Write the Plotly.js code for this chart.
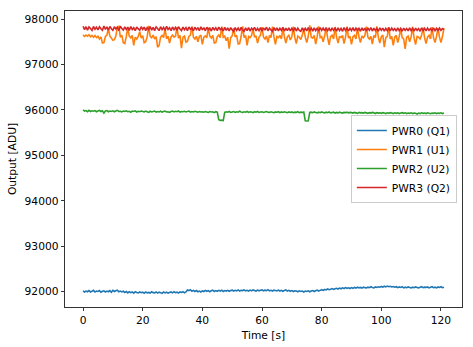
<!DOCTYPE html>
<html>
<head>
<meta charset="utf-8">
<script src="https://cdn.plot.ly/plotly-3.0.1.min.js"></script>
<style>html,body{margin:0;padding:0;background:#fff}#chart{width:473px;height:347px}</style>
</head>
<body>
<div id="chart"></div>
<script>
// Sampling step of the time grid (seconds)
const timeStep = 0.5;

const seriesNames = ["PWR0 (Q1)", "PWR1 (U1)", "PWR2 (U2)", "PWR3 (Q2)"];

const pwr0 = [
92020,91995,92015,92000,92025,91995,92010,92030,91995,92015,
92005,92025,91990,92010,92020,91995,92015,92000,92025,91990,
92030,92005,92020,92035,92000,92015,91995,92010,91985,92005,
91975,92000,91980,91995,91970,92000,91985,91975,91995,91980,
91990,91965,91995,91975,91985,91970,92000,91980,91975,91995,
91970,91990,91980,91965,91995,91975,91990,91970,91985,91995,
91975,92000,91980,91990,91970,91995,91985,92000,91975,91995,
92040,92025,92045,92010,92030,92005,92025,92000,92015,91995,
92020,92005,92030,92010,92025,92000,92020,92035,92005,92025,
92010,92030,92015,92035,92005,92025,92015,92030,92010,92025,
92035,92015,92030,92020,92040,92015,92030,92025,92040,92020,
92030,92015,92035,92020,92040,92025,92015,92035,92020,92030,
92040,92020,92035,92025,92045,92020,92030,92015,92035,92025,
92020,92035,92015,92030,92010,92025,92040,92015,92030,92010,
92025,92005,92020,92015,92000,92020,92005,92015,91995,92015,
92005,92020,92000,92015,92025,92005,92020,92035,92015,92030,
92045,92030,92050,92040,92060,92045,92055,92070,92050,92065,
92075,92060,92080,92065,92085,92070,92090,92075,92085,92070,
92090,92075,92095,92080,92100,92085,92095,92080,92100,92090,
92085,92100,92090,92110,92095,92085,92105,92095,92110,92100,
92115,92100,92120,92105,92125,92110,92120,92105,92115,92100,
92110,92090,92105,92095,92110,92085,92100,92090,92105,92095,
92085,92100,92090,92105,92095,92085,92100,92110,92090,92100,
92095,92105,92085,92100,92110,92090,92100,92085,92105,92095,
92110,92090,92100];

const pwr1 = [
97650,97615,97645,97620,97655,97610,97640,97600,97635,97590,
97620,97560,97605,97470,97480,97615,97645,97790,97620,97580,
97530,97545,97625,97820,97840,97600,97645,97480,97460,97615,
97800,97625,97585,97640,97420,97600,97560,97615,97720,97580,
97635,97480,97500,97605,97850,97620,97590,97645,97560,97610,
97380,97420,97600,97640,97590,97790,97560,97625,97470,97605,
97645,97600,97625,97820,97580,97640,97360,97600,97625,97490,
97510,97615,97645,97830,97600,97560,97620,97500,97615,97645,
97440,97600,97630,97590,97810,97620,97580,97640,97470,97480,
97610,97645,97590,97830,97600,97625,97520,97600,97350,97590,
97630,97800,97605,97640,97450,97460,97620,97840,97590,97635,
97420,97615,97590,97640,97780,97600,97630,97470,97600,97645,
97820,97600,97560,97625,97480,97640,97590,97830,97605,97440,
97615,97590,97640,97560,97800,97610,97470,97605,97640,97540,
97610,97830,97590,97460,97625,97600,97550,97640,97790,97600,
97480,97620,97860,97600,97580,97640,97450,97610,97840,97590,
97615,97500,97630,97800,97590,97430,97610,97645,97560,97820,
97600,97470,97620,97590,97640,97460,97600,97830,97580,97620,
97440,97610,97640,97560,97800,97610,97480,97625,97590,97640,
97830,97600,97560,97615,97450,97640,97590,97840,97600,97470,
97610,97645,97380,97590,97620,97820,97560,97615,97420,97600,
97640,97480,97610,97790,97590,97560,97340,97600,97625,97500,
97610,97830,97580,97440,97615,97600,97560,97640,97810,97590,
97460,97600,97640,97560,97820,97590,97480,97615,97800,97600,
97480,97620,97800];

const pwr2 = [
96000,95975,95985,95960,95990,95965,95980,95970,95985,95960,
95975,95990,95965,95980,95930,95975,95985,95960,95975,95965,
95980,95960,95975,95990,95965,95970,95955,95975,95965,95980,
95960,95970,95950,95975,95965,95980,95955,95970,95960,95975,
95965,95955,95975,95960,95945,95970,95955,95965,95975,95950,
95965,95955,95970,95950,95965,95975,95955,95960,95945,95965,
95975,95955,95970,95960,95975,95950,95965,95960,95970,95955,
95965,95975,95950,95965,95955,95970,95960,95950,95965,95955,
95960,95950,95965,95955,95945,95965,95955,95960,95940,95960,
95950,95785,95770,95775,95765,95945,95960,95950,95965,95945,
95955,95965,95945,95960,95950,95970,95955,95945,95960,95950,
95965,95945,95960,95955,95940,95960,95950,95965,95945,95955,
95960,95945,95955,95965,95950,95945,95960,95950,95940,95955,
95950,95960,95940,95955,95945,95960,95950,95940,95955,95945,
95955,95940,95950,95945,95960,95940,95950,95945,95955,95760,
95755,95760,95945,95950,95940,95955,95945,95935,95950,95940,
95955,95945,95935,95950,95940,95955,95935,95945,95950,95930,
95945,95935,95950,95940,95930,95945,95940,95950,95935,95945,
95940,95930,95945,95935,95925,95945,95935,95940,95930,95945,
95935,95925,95940,95930,95945,95935,95920,95940,95930,95935,
95925,95940,95930,95920,95935,95925,95940,95930,95920,95935,
95925,95935,95920,95930,95940,95925,95935,95920,95930,95925,
95935,95920,95930,95925,95910,95930,95920,95935,95925,95930,
95920,95935,95925,95915,95930,95925,95935,95920,95930,95925,
95935,95920,95930];

const pwr3 = [
97840,97765,97830,97755,97825,97790,97750,97835,97775,97820,
97760,97830,97785,97750,97845,97770,97825,97755,97835,97785,
97750,97830,97780,97820,97745,97840,97790,97755,97825,97770,
97820,97750,97835,97770,97810,97745,97825,97780,97755,97830,
97770,97820,97745,97810,97765,97835,97755,97815,97745,97825,
97790,97745,97830,97765,97815,97750,97840,97770,97810,97745,
97825,97765,97815,97750,97830,97780,97745,97820,97765,97810,
97745,97825,97770,97810,97740,97820,97765,97805,97745,97830,
97760,97810,97740,97820,97765,97800,97735,97815,97760,97805,
97745,97820,97765,97800,97735,97815,97750,97805,97740,97810,
97760,97730,97810,97750,97800,97740,97815,97760,97730,97805,
97745,97810,97735,97800,97760,97815,97740,97795,97745,97810,
97735,97805,97755,97820,97740,97800,97760,97730,97810,97745,
97805,97740,97795,97750,97815,97735,97800,97745,97805,97740,
97795,97745,97810,97735,97800,97750,97730,97805,97745,97795,
97740,97810,97750,97800,97735,97805,97745,97795,97735,97810,
97750,97800,97740,97810,97745,97795,97735,97805,97750,97800,
97735,97805,97745,97795,97730,97810,97750,97800,97740,97795,
97745,97810,97735,97800,97750,97795,97730,97805,97745,97800,
97740,97795,97750,97810,97735,97800,97745,97795,97730,97805,
97750,97800,97735,97795,97745,97810,97740,97800,97750,97790,
97735,97805,97745,97795,97730,97800,97750,97790,97740,97805,
97745,97795,97735,97800,97750,97790,97730,97805,97745,97795,
97740,97800,97750,97790,97735,97805,97745,97795,97740,97800,
97750,97790,97765];

const yTickVals = [92000, 93000, 94000, 95000, 96000, 97000, 98000];
const yTickText = ["92000", "93000", "94000", "95000", "96000", "97000", "98000"];
const xTickVals = [0, 20, 40, 60, 80, 100, 120];
const xTickText = ["0", "20", "40", "60", "80", "100", "120"];

function timeGrid(n) { const a = []; for (let i = 0; i < n; i++) a.push(i * timeStep); return a; }

const colors = ["#1f77b4", "#ff7f0e", "#2ca02c", "#d62728"];
const ys = [pwr0, pwr1, pwr2, pwr3];

const traces = ys.map((y, i) => ({
  x: timeGrid(y.length),
  y: y,
  type: "scatter",
  mode: "lines",
  name: seriesNames[i],
  line: { color: colors[i], width: 1.6, simplify: false }
}));

const font = { family: "DejaVu Sans", size: 10.7, color: "#000" };
const layout = {
  width: 473, height: 347,
  margin: { l: 65, r: 11, t: 11, b: 40 },
  paper_bgcolor: "#fff", plot_bgcolor: "#fff",
  font: font,
  showlegend: true,
  xaxis: {
    range: [-6.05, 127.05],
    tickvals: xTickVals, ticktext: xTickText,
    ticks: "outside", ticklen: 3.5, tickwidth: 0.8, tickcolor: "#000",
    showline: true, linecolor: "#000", linewidth: 0.8, mirror: true,
    showgrid: false, zeroline: false,
    tickfont: font,
    title: { text: "Time [s]", font: font, standoff: 5 }
  },
  yaxis: {
    range: [91664, 98176],
    tickvals: yTickVals, ticktext: yTickText,
    ticks: "outside", ticklen: 3.5, tickwidth: 0.8, tickcolor: "#000",
    showline: true, linecolor: "#000", linewidth: 0.8, mirror: true,
    showgrid: false, zeroline: false,
    tickfont: font,
    title: { text: "Output [ADU]", font: font, standoff: 5 }
  },
  legend: {
    x: 0.987, xanchor: "right", y: 0.5, yanchor: "middle",
    bgcolor: "rgba(255,255,255,0.8)", bordercolor: "#cccccc", borderwidth: 1,
    font: font, itemwidth: 30, tracegroupgap: 0
  }
};

Plotly.newPlot("chart", traces, layout, { staticPlot: true, displayModeBar: false });
</script>
</body>
</html>
